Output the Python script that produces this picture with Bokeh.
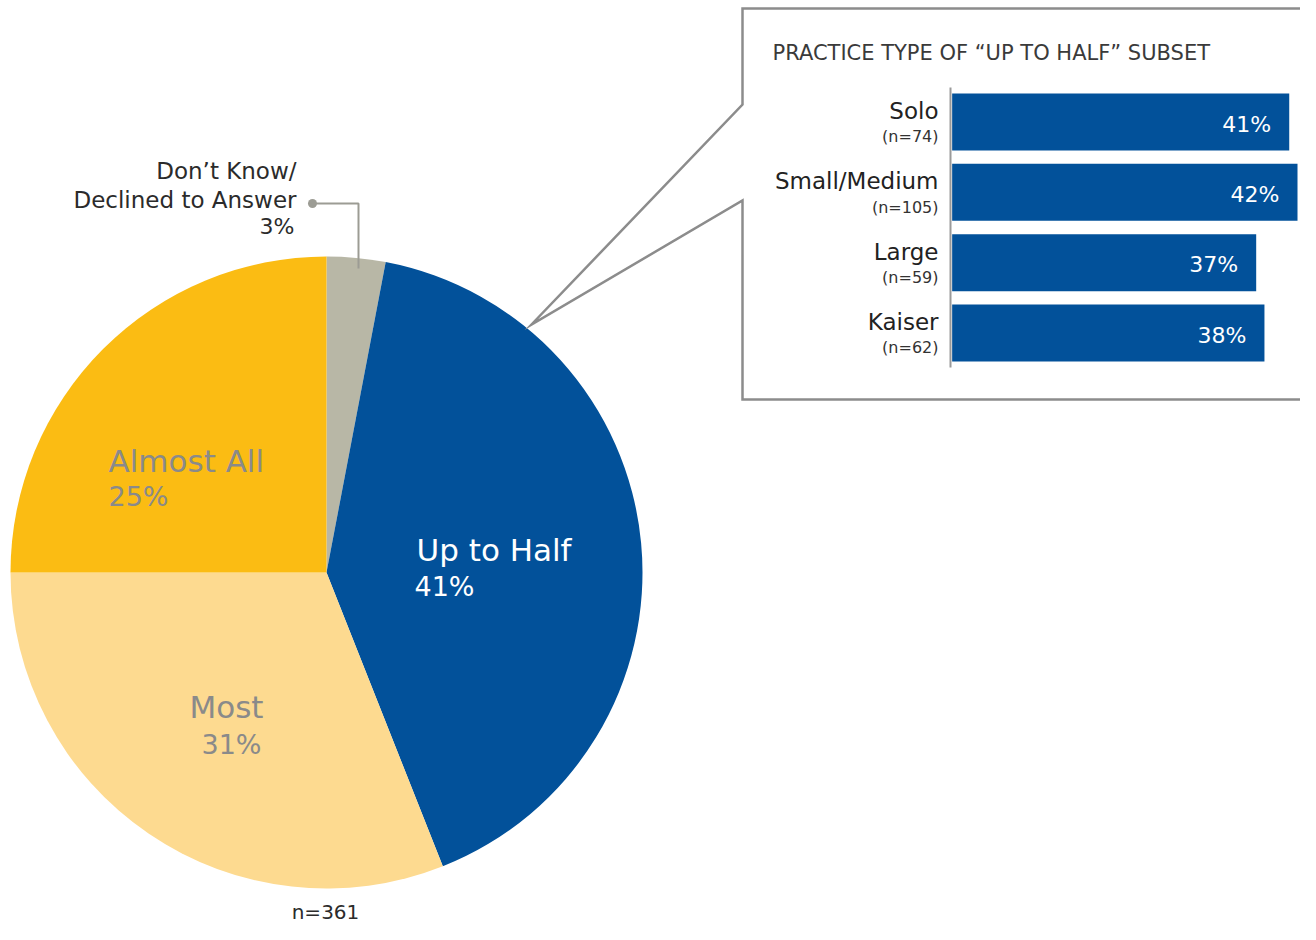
from bokeh.plotting import figure
from bokeh.models import Range1d, ColumnDataSource
from bokeh.core.properties import value
from bokeh.embed import file_html
from bokeh.resources import INLINE
import math

# ---------------- data ----------------
pie_labels = ["Don’t Know/", "Up to Half", "Most", "Almost All"]
pie_label_line2 = "Declined to Answer"
pie_values = [3, 41, 31, 25]
total_n = 361

bar_title = "PRACTICE TYPE OF “UP TO HALF” SUBSET"
bar_categories = ["Solo", "Small/Medium", "Large", "Kaiser"]
bar_n = [74, 105, 59, 62]
bar_values = [41, 42, 37, 38]

# ---------------- styling ----------------
W, H = 1300, 924
FONT = "DejaVu Sans"
pie_colors = ["#B8B7A6", "#02519A", "#FDDA90", "#FBBC13"]
BLUE = "#02519A"
LINE_GRAY = "#8C8C8C"
SHIFT = 0.42   # empirical baseline correction (fraction of font size)


def px(X):
    return X


def py(Y):
    return H - Y


p = figure(width=W, height=H, x_range=Range1d(0, W), y_range=Range1d(0, H),
           output_backend="svg", toolbar_location=None, min_border=0,
           x_axis_location=None, y_axis_location=None)
p.grid.visible = False
p.outline_line_color = None
p.background_fill_color = "white"
p.border_fill_color = "white"

# ---------------- pie ----------------
cx, cy, R = px(326), py(572), 316
cum = [0]
for v in pie_values:
    cum.append(cum[-1] + v)
tot = float(cum[-1])
starts = [math.pi / 2 - cum[i + 1] / tot * 2 * math.pi for i in range(len(pie_values))]
ends = [math.pi / 2 - cum[i] / tot * 2 * math.pi for i in range(len(pie_values))]
pie_src = ColumnDataSource(dict(start=starts, end=ends, color=pie_colors,
                                label=pie_labels, val=pie_values))
p.wedge(x=cx, y=cy, radius=R, start_angle="start", end_angle="end",
        fill_color="color", line_color=None, source=pie_src)


def txt(x, y, s, size, color, align="left", **kw):
    p.text(x=[x], y=[y], text=[s], text_font=value(FONT), text_font_size=f"{size}px",
           text_color=color, text_align=align, text_baseline="alphabetic",
           y_offset=-SHIFT * size, **kw)


# Up to Half
txt(px(416), py(563), pie_labels[1], 31, "white")
txt(px(414), py(597), f"{pie_values[1]}%", 27, "white")
# Almost All
txt(px(108), py(474), pie_labels[3], 31, "#8A8A8A")
txt(px(108), py(507), f"{pie_values[3]}%", 27, "#8A8A8A")
# Most
txt(px(226), py(720), pie_labels[2], 31, "#8A8A8A", align="center")
txt(px(231), py(755), f"{pie_values[2]}%", 27, "#8A8A8A", align="center")
# Don't know
txt(px(296), py(180), pie_labels[0], 23, "#2B2B2B", align="right")
txt(px(296), py(209), pie_label_line2, 23, "#2B2B2B", align="right")
txt(px(294), py(235), f"{pie_values[0]}%", 22, "#2B2B2B", align="right")
# leader
p.line(x=[px(312), px(358), px(358)], y=[py(203), py(203), py(268)],
       line_color="#9C9C94", line_width=2)
p.scatter(x=[px(312)], y=[py(203)], size=9, marker="circle",
          fill_color="#9C9C94", line_color=None)

txt(px(325), py(920), f"n={total_n}", 20, "#2B2B2B", align="center")

# ---------------- callout box ----------------
p.line(x=[px(1330), px(742), px(742), px(531), px(742), px(742), px(1330)],
       y=[py(8), py(8), py(104), py(324), py(200), py(399), py(399)],
       line_color=LINE_GRAY, line_width=2.5, line_join="miter")

txt(px(772), py(61), bar_title, 21, "#3A3A3A")

# ---------------- bars (own scales) ----------------
bx0, bx1 = 950.0, 1297.0          # pixel positions of 0 and 42
scale = (bx1 - bx0) / 42.0
xs = -bx0 / scale
p.extra_x_ranges = {"bars": Range1d(xs, xs + W / scale)}
ry0, rstep = 121.5, 70.33          # pixel Y of first bar center, spacing
i_top = (0 - ry0) / rstep
i_bot = (H - ry0) / rstep
p.extra_y_ranges = {"barsy": Range1d(i_bot, i_top)}

idx = list(range(len(bar_categories)))
bar_src = ColumnDataSource(dict(y=idx, v=bar_values, cat=bar_categories,
                                n=[f"(n={n})" for n in bar_n],
                                lab=[f"{v}%" for v in bar_values]))
p.hbar(y="y", left=0.2, right="v", height=0.81, fill_color=BLUE, line_color=None,
       source=bar_src, x_range_name="bars", y_range_name="barsy")
p.segment(x0=[0], x1=[0], y0=[-0.49], y1=[3.49], line_color="#9A9A9A", line_width=2,
          x_range_name="bars", y_range_name="barsy")
p.text(x=0, y="y", text="cat", source=bar_src, x_offset=-12, y_offset=-1.5 - SHIFT * 23,
       text_font=value(FONT), text_font_size="23px", text_color="#222222",
       text_align="right", text_baseline="alphabetic",
       x_range_name="bars", y_range_name="barsy")
p.text(x=0, y="y", text="n", source=bar_src, x_offset=-12, y_offset=21.5 - SHIFT * 16,
       text_font=value(FONT), text_font_size="16px", text_color="#333333",
       text_align="right", text_baseline="alphabetic",
       x_range_name="bars", y_range_name="barsy")
p.text(x="v", y="y", text="lab", source=bar_src, x_offset=-18, y_offset=11.5 - SHIFT * 22,
       text_font=value(FONT), text_font_size="22px", text_color="white",
       text_align="right", text_baseline="alphabetic",
       x_range_name="bars", y_range_name="barsy")

open("out.html", "w").write(file_html(p, INLINE))
